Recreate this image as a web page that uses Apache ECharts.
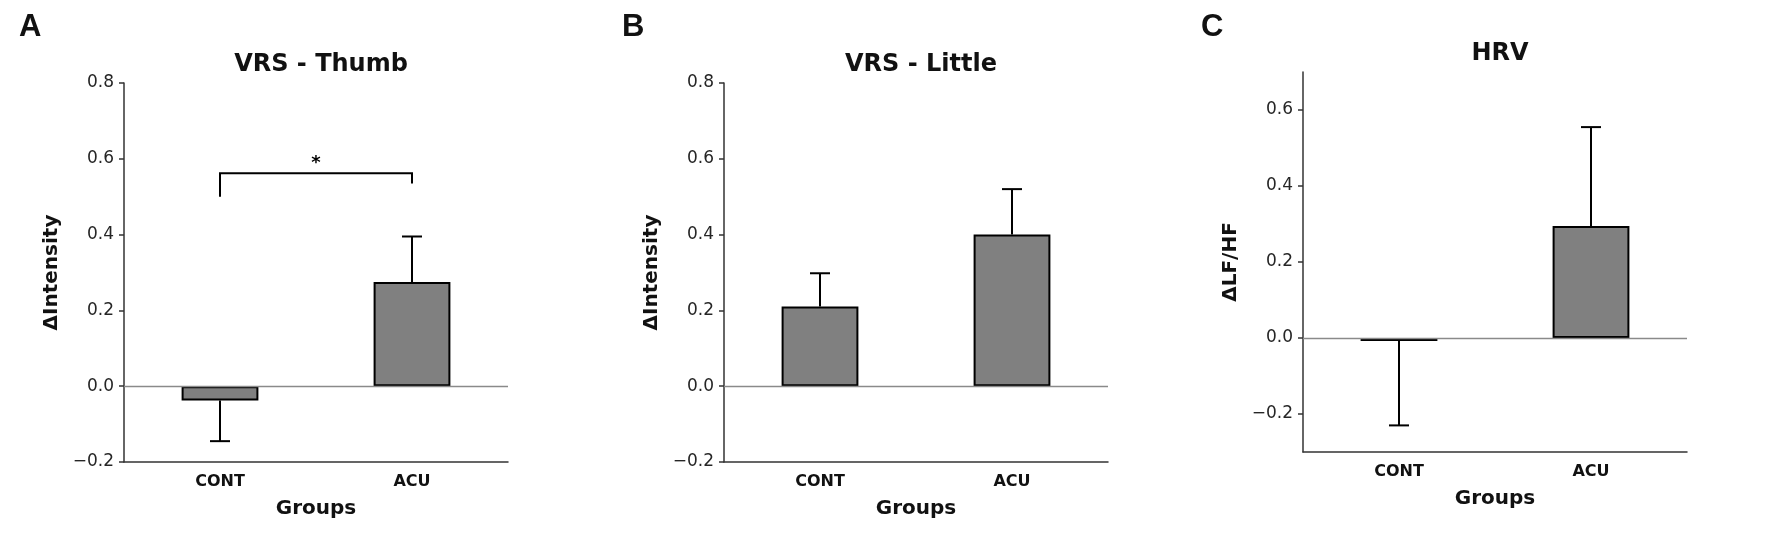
<!DOCTYPE html>
<html>
<head>
<meta charset="utf-8">
<script src="https://cdn.jsdelivr.net/npm/echarts@6/dist/echarts.min.js"></script>
<style>
  html, body { margin: 0; padding: 0; background: #fff; }
  #container { width: 1772px; height: 533px; }
</style>
</head>
<body>
<div id="container"></div>
<script>
var categories = ['CONT', 'ACU'];

// panel A: VRS - Thumb
var thumbMean = [-0.038, 0.275];
var thumbErr = [0.107, 0.12];
// panel B: VRS - Little
var littleMean = [0.21, 0.40];
var littleErr = [0.088, 0.12];
// panel C: HRV (CONT is ~0, drawn as a flat bar)
var hrvMean = [-0.008, 0.295];
var hrvErr = [0.222, 0.26];

// y ticks
var vrsTicks = [-0.2, 0, 0.2, 0.4, 0.6, 0.8];
var hrvTicks = [-0.2, 0, 0.2, 0.4, 0.6];

// significance bracket on panel A: [left leg end, bar level, right leg end]
var sigPair = [0, 1];
var sigLevels = [0.50, 0.562, 0.535];
var sigMark = '*';

var FONT = 'DejaVu Sans';

var dom = document.getElementById('container');
var myChart = echarts.init(dom, null, { renderer: 'canvas' });

function fmt(v) {
  return (Math.abs(v) < 1e-9 ? 0 : v).toFixed(1).replace('-', '\u2212');
}

function errorBars(mean, err) {
  return mean.map(function (m, i) { return [i, m, err[i]]; });
}

function renderErr(params, api) {
  var i = api.value(0), m = api.value(1), e = api.value(2);
  var end = m < 0 ? m - e : m + e;
  var p0 = api.coord([i, m]);
  var p1 = api.coord([i, end]);
  var cap = 10;
  var st = { stroke: '#000', lineWidth: 2 };
  return {
    type: 'group',
    children: [
      { type: 'line', shape: { x1: p0[0], y1: p0[1], x2: p1[0], y2: p1[1] }, style: st },
      { type: 'line', shape: { x1: p1[0] - cap, y1: p1[1], x2: p1[0] + cap, y2: p1[1] }, style: st }
    ]
  };
}

function renderSig(params, api) {
  var a = api.coord([sigPair[0], sigLevels[0]]);
  var b = api.coord([sigPair[0], sigLevels[1]]);
  var c = api.coord([sigPair[1], sigLevels[1]]);
  var d = api.coord([sigPair[1], sigLevels[2]]);
  return {
    type: 'group',
    children: [
      { type: 'polyline', shape: { points: [a, b, c, d] }, style: { stroke: '#000', lineWidth: 2, fill: null } },
      {
        type: 'text',
        x: (b[0] + c[0]) / 2,
        y: b[1] - 1,
        style: {
          text: sigMark, fill: '#000', fontFamily: FONT, fontSize: 18, fontWeight: 'bold',
          align: 'center', verticalAlign: 'bottom'
        }
      }
    ]
  };
}

var grids = [
  { left: 124, top: 83, width: 384, height: 379 },
  { left: 724, top: 83, width: 384, height: 379 },
  { left: 1303, top: 72, width: 384, height: 380 }
];

function xAx(idx) {
  return {
    type: 'category', gridIndex: idx, data: categories,
    name: 'Groups', nameLocation: 'middle', nameGap: 37,
    nameTextStyle: { fontFamily: FONT, fontSize: 20, fontWeight: 'bold', color: '#111' },
    axisLine: { onZero: false, lineStyle: { color: '#333', width: 1.5 } },
    axisTick: { alignWithLabel: true, length: 5, lineStyle: { color: '#333', width: 1.5 } },
    axisLabel: { fontFamily: FONT, fontSize: 16, fontWeight: 'bold', color: '#111', margin: 12 },
    splitLine: { show: false }
  };
}

function yAx(idx, name, min, max, ticks) {
  return {
    type: 'value', gridIndex: idx, min: min, max: max, interval: 0.2,
    name: name, nameLocation: 'middle', nameGap: 62,
    nameTextStyle: { fontFamily: FONT, fontSize: 20, fontWeight: 'bold', color: '#111' },
    axisLine: { show: true, onZero: false, lineStyle: { color: '#333', width: 1.5 } },
    axisTick: { show: true, length: 5, customValues: ticks, lineStyle: { color: '#333', width: 1.5 } },
    axisLabel: { fontFamily: FONT, fontSize: 17, color: '#262626', margin: 10, customValues: ticks, formatter: fmt },
    splitLine: { show: false }
  };
}

function panelSeries(idx, mean, err) {
  return [
    {
      type: 'line', xAxisIndex: idx, yAxisIndex: idx, data: [], z: 1, silent: true,
      markLine: {
        silent: true, symbol: ['none', 'none'], label: { show: false },
        lineStyle: { color: '#8a8a8a', width: 1.3, type: 'solid' },
        data: [{ yAxis: 0 }]
      }
    },
    {
      type: 'bar', xAxisIndex: idx, yAxisIndex: idx, data: mean, barWidth: '40%', z: 2,
      itemStyle: { color: '#808080', borderColor: '#000', borderWidth: 2 }
    },
    {
      type: 'custom', xAxisIndex: idx, yAxisIndex: idx, z: 3,
      data: errorBars(mean, err), renderItem: renderErr,
      encode: { x: 0, y: 1 }
    }
  ];
}

var titleStyle = { fontFamily: FONT, fontSize: 24, fontWeight: 'bold', color: '#111' };
var letterStyle = { fontFamily: 'Liberation Sans', fontSize: 31, fontWeight: 'bold', color: '#111' };

var option = {
  animation: false,
  backgroundColor: '#fff',
  title: [
    { text: 'A', left: 14, top: 7, textStyle: letterStyle },
    { text: 'B', left: 617, top: 7, textStyle: letterStyle },
    { text: 'C', left: 1196, top: 7, textStyle: letterStyle },
    { text: 'VRS - Thumb', left: 316, top: 48, textAlign: 'center', textStyle: titleStyle },
    { text: 'VRS - Little', left: 916, top: 48, textAlign: 'center', textStyle: titleStyle },
    { text: 'HRV', left: 1495, top: 37, textAlign: 'center', textStyle: titleStyle }
  ],
  grid: grids,
  xAxis: [xAx(0), xAx(1), xAx(2)],
  yAxis: [
    yAx(0, '\u0394Intensity', -0.2, 0.8, vrsTicks),
    yAx(1, '\u0394Intensity', -0.2, 0.8, vrsTicks),
    yAx(2, '\u0394LF/HF', -0.3, 0.7, hrvTicks)
  ],
  series: []
    .concat(panelSeries(0, thumbMean, thumbErr))
    .concat(panelSeries(1, littleMean, littleErr))
    .concat(panelSeries(2, hrvMean, hrvErr))
    .concat([{
      type: 'custom', xAxisIndex: 0, yAxisIndex: 0, z: 4,
      data: [[sigPair[0], sigLevels[1]]], renderItem: renderSig,
      encode: { x: 0, y: 1 }
    }])
};

myChart.setOption(option);
window.addEventListener('resize', myChart.resize);
</script>
</body>
</html>
